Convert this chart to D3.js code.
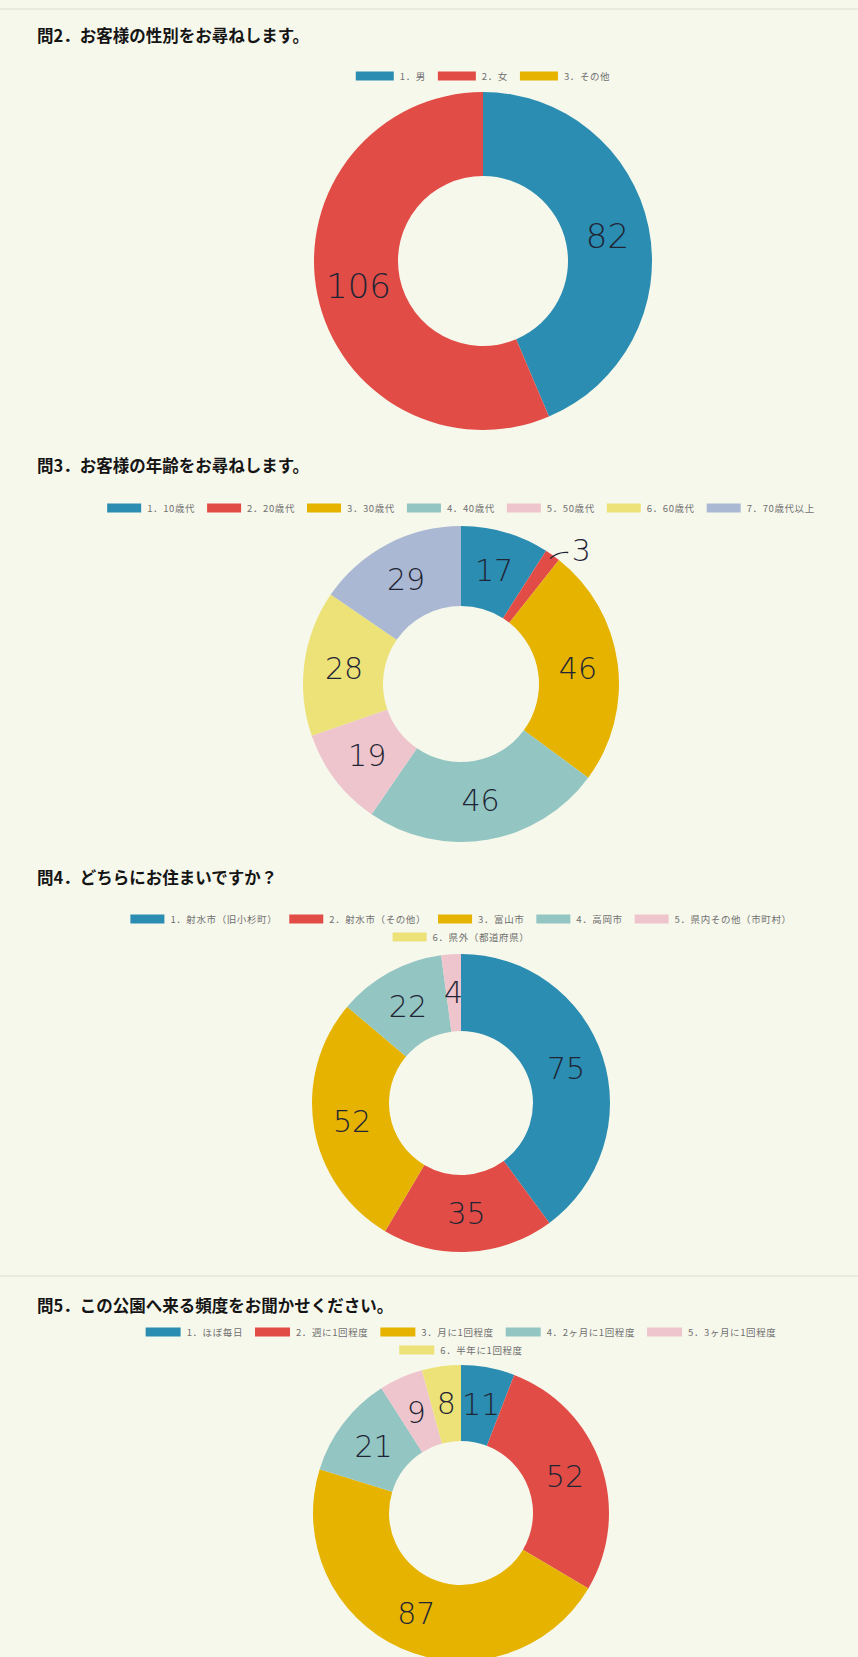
<!DOCTYPE html>
<html>
<head>
<meta charset="utf-8">
<script src="https://cdn.jsdelivr.net/npm/d3@7"></script>
<style>
  html, body { margin: 0; padding: 0; background: #f7f8ec; }
  svg { display: block; }
</style>
</head>
<body>
<svg id="page" width="858" height="1657"></svg>
<script>
// ---- survey answers (188 respondents) ----
const q2Title = "問2．お客様の性別をお尋ねします。";
const q2Categories = ["1．男", "2．女", "3．その他"];
const q2Values = [82, 106, 0];

const q3Title = "問3．お客様の年齢をお尋ねします。";
const q3Categories = ["1．10歳代", "2．20歳代", "3．30歳代", "4．40歳代", "5．50歳代", "6．60歳代", "7．70歳代以上"];
const q3Values = [17, 3, 46, 46, 19, 28, 29];

const q4Title = "問4．どちらにお住まいですか？";
const q4Categories = ["1．射水市（旧小杉町）", "2．射水市（その他）", "3．富山市", "4．高岡市", "5．県内その他（市町村）", "6．県外（都道府県）"];
const q4Values = [75, 35, 52, 22, 4, 0];

const q5Title = "問5．この公園へ来る頻度をお聞かせください。";
const q5Categories = ["1．ほぼ毎日", "2．週に1回程度", "3．月に1回程度", "4．2ヶ月に1回程度", "5．3ヶ月に1回程度", "6．半年に1回程度"];
const q5Values = [11, 52, 87, 21, 9, 8];

// ---- palette ----
const palette = ["#2b8db1", "#e14d46", "#e5b300", "#93c5c2", "#eec5cc", "#ece278", "#aab8d4"];

// ---- layout of each block ----
const blocks = [
  { title: q2Title, cats: q2Categories, vals: q2Values, titleY: 35, legendY: 76, rowGap: 19, perRow: 3, swW: 38, cx: 483, cy: 261, R: 169, r: 85, fs: 34 },
  { title: q3Title, cats: q3Categories, vals: q3Values, titleY: 465, legendY: 508, rowGap: 19, perRow: 7, swW: 34, cx: 461, cy: 684, R: 158, r: 78, fs: 30 },
  { title: q4Title, cats: q4Categories, vals: q4Values, titleY: 877, legendY: 919, rowGap: 18, perRow: 5, swW: 34, cx: 461, cy: 1103, R: 149, r: 72, fs: 30 },
  { title: q5Title, cats: q5Categories, vals: q5Values, titleY: 1305, legendY: 1332, rowGap: 18, perRow: 5, swW: 35, cx: 461, cy: 1513, R: 148, r: 72, fs: 30 }
];

const svg = d3.select("#page");

// faint rule lines of the printed sheet
svg.append("g").selectAll("line").data([9, 1276]).join("line")
  .attr("x1", 0).attr("x2", 858).attr("y1", d => d).attr("y2", d => d)
  .attr("stroke", "#dcddd2").attr("stroke-width", 1);

const pie = d3.pie().sort(null).value(d => d.value);

blocks.forEach(b => {
  const data = b.cats.map((c, i) => ({ name: c, value: b.vals[i], color: palette[i] }));
  const g = svg.append("g");

  // title
  g.append("text")
    .attr("x", 37).attr("y", b.titleY)
    .attr("dominant-baseline", "central")
    .attr("font-family", "'Noto Sans CJK JP', sans-serif")
    .attr("font-weight", 700)
    .attr("font-size", 16.5)
    .attr("fill", "#151515")
    .text(b.title);

  // legend, rows centred on the ring
  const legend = g.append("g");
  const items = legend.selectAll("g.item").data(data).join("g").attr("class", "item");
  const swW = b.swW, swH = 9, swGap = 6, itemGap = 12;
  items.append("rect").attr("width", swW).attr("height", swH).attr("fill", d => d.color);
  items.append("text")
    .attr("x", swW + swGap).attr("y", swH / 2)
    .attr("dominant-baseline", "central")
    .attr("font-family", "'Noto Sans CJK JP', sans-serif")
    .attr("font-size", 9.5)
    .attr("letter-spacing", 0.6)
    .attr("fill", "#707070")
    .text(d => d.name);
  const widths = [];
  items.each(function () {
    const t = d3.select(this).select("text").node().getComputedTextLength();
    widths.push(swW + swGap + t);
  });
  for (let start = 0, row = 0; start < data.length; start += b.perRow, row++) {
    const idx = d3.range(start, Math.min(start + b.perRow, data.length));
    const total = d3.sum(idx, i => widths[i]) + itemGap * (idx.length - 1);
    let x = b.cx - total / 2;
    idx.forEach(i => {
      d3.select(items.nodes()[i])
        .attr("transform", `translate(${x},${b.legendY + row * b.rowGap - swH / 2})`);
      x += widths[i] + itemGap;
    });
  }

  // donut
  const arcs = pie(data);
  const arc = d3.arc().innerRadius(b.r).outerRadius(b.R);
  const ring = g.append("g").attr("transform", `translate(${b.cx},${b.cy})`);
  ring.selectAll("path").data(arcs.filter(a => a.value > 0)).join("path")
    .attr("d", arc)
    .attr("fill", d => d.data.color);

  // written-in counts
  const total = d3.sum(b.vals);
  const mid = d3.arc().innerRadius((b.r + b.R) / 2).outerRadius((b.r + b.R) / 2);
  const labelStyle = sel => sel
    .attr("font-family", "'DejaVu Sans', sans-serif")
    .attr("font-weight", 200)
    .attr("fill", "#1f2535")
    .attr("text-anchor", "middle")
    .attr("dominant-baseline", "central");

  arcs.filter(a => a.value > 0).forEach(a => {
    const small = a.value / total < 0.02;
    if (!small) {
      const [x, y] = mid.centroid(a);
      ring.append("text").attr("x", x).attr("y", y)
        .attr("font-size", b.fs).call(labelStyle).text(a.value);
    } else {
      const ang = (a.startAngle + a.endAngle) / 2;
      const p0 = [Math.sin(ang) * (b.R - 4), -Math.cos(ang) * (b.R - 4)];
      const p1 = [p0[0] + 18, p0[1] - 6];
      ring.append("path")
        .attr("d", `M${p0[0]},${p0[1]} Q${p0[0] + 8},${p0[1] - 7} ${p1[0]},${p1[1]}`)
        .attr("fill", "none").attr("stroke", "#1f2535").attr("stroke-width", 1.4);
      ring.append("text").attr("x", p1[0] + 13).attr("y", p1[1] - 2)
        .attr("font-size", b.fs).call(labelStyle).text(a.value);
    }
  });
});
</script>
</body>
</html>
